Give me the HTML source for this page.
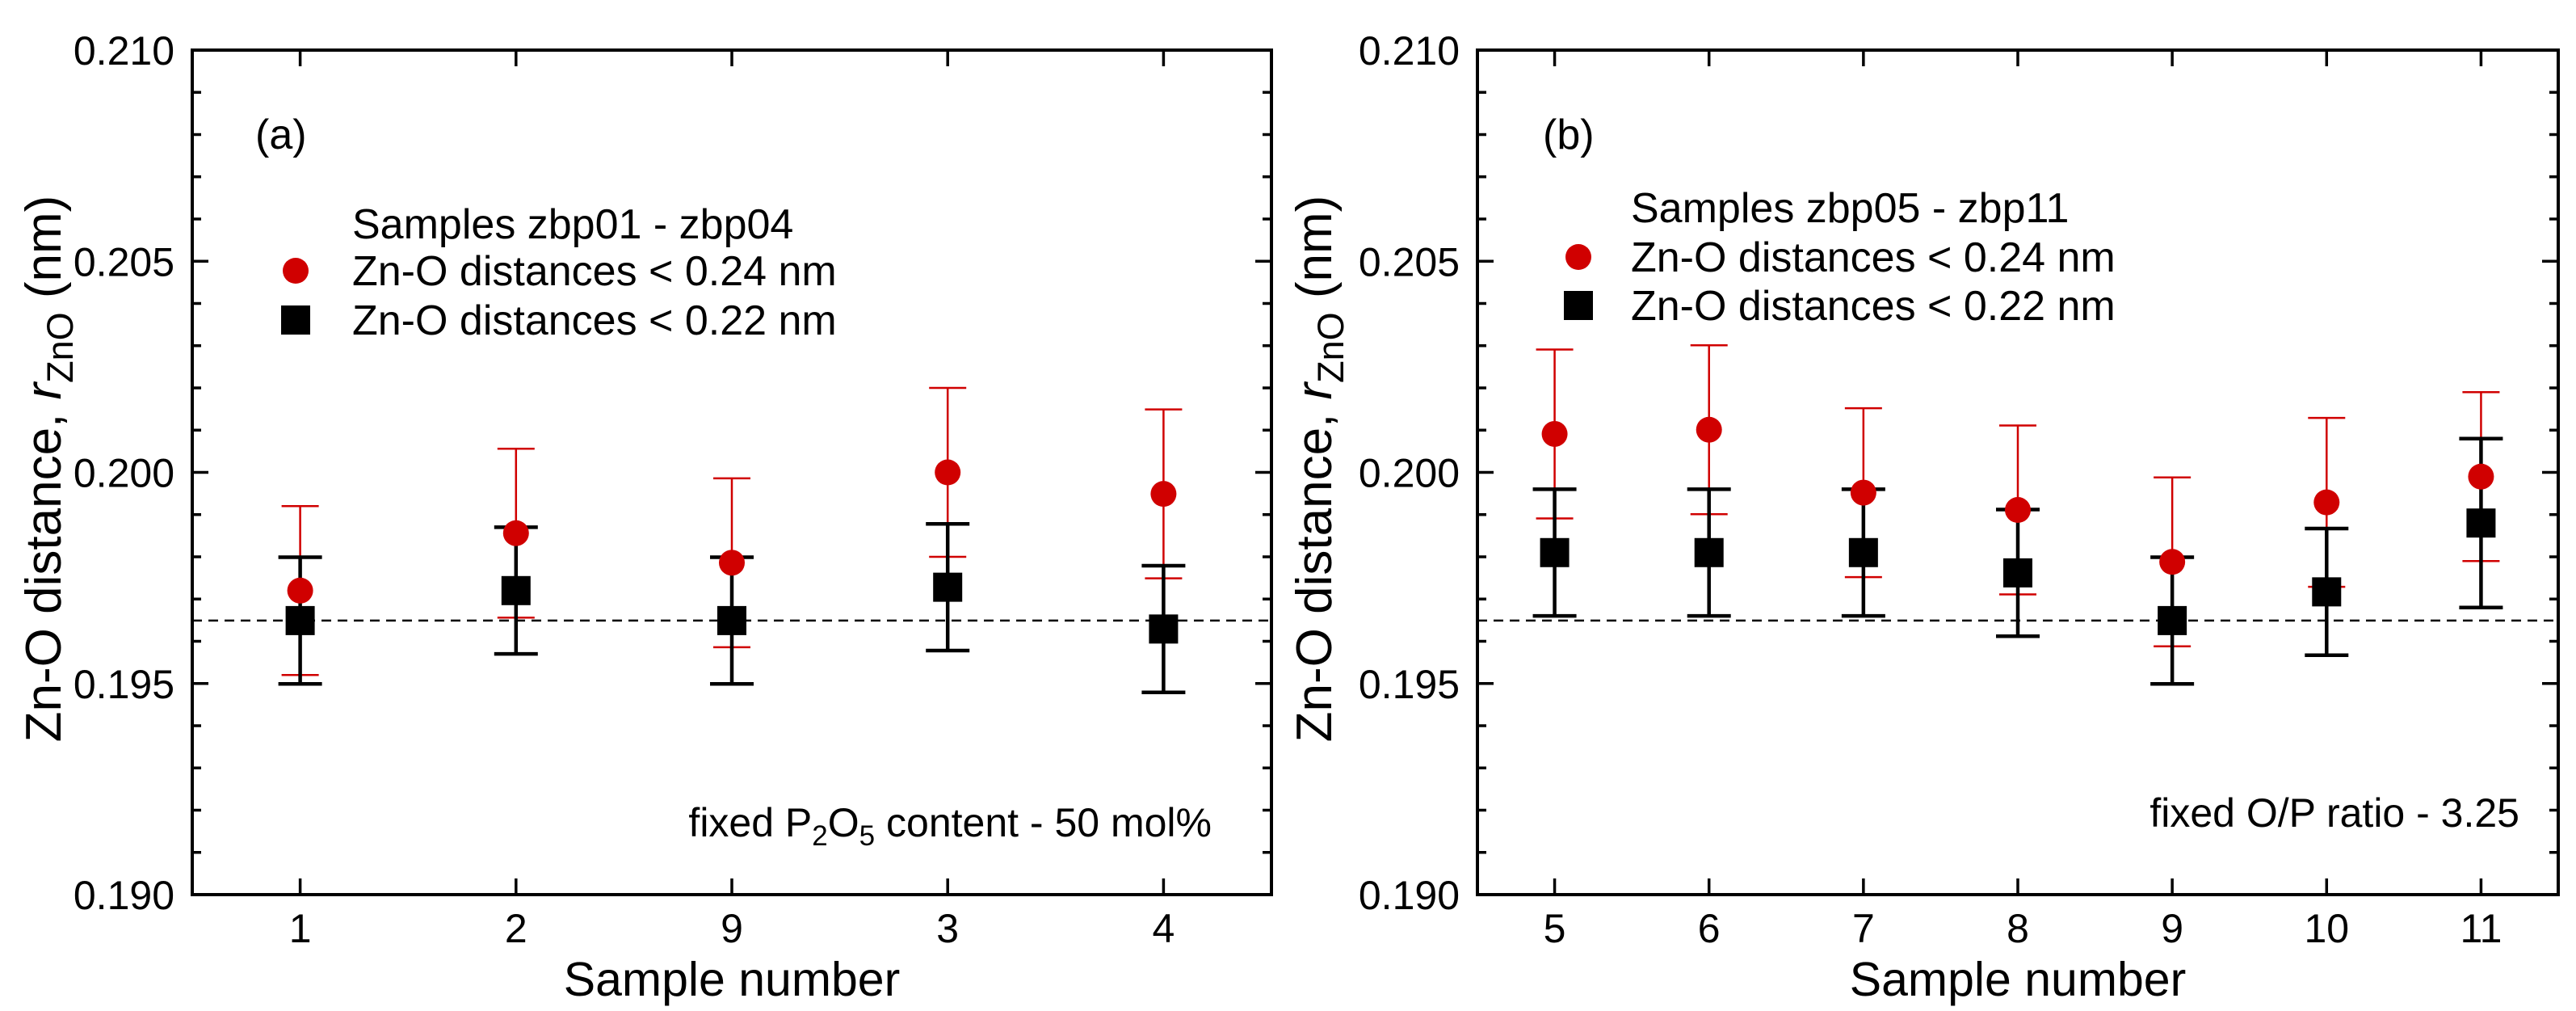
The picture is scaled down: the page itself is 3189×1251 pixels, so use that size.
<!DOCTYPE html>
<html><head><meta charset="utf-8">
<style>
html,body{margin:0;padding:0;background:#fff;}
svg{display:block;font-family:"Liberation Sans",Arial,sans-serif;}
</style></head>
<body>
<svg id="chart" width="3189" height="1251" viewBox="0 0 3189 1251" xmlns="http://www.w3.org/2000/svg"></svg>
<script>
// Panel (a) data
const catsA = ["1","2","9","3","4"];
const redA = [0.1972, 0.19856, 0.19786, 0.2000, 0.19949];
const redErrA = [0.0020, 0.0020, 0.0020, 0.0020, 0.0020];
const blkA = [0.19649, 0.1972, 0.19649, 0.19728, 0.19629];
const blkErrA = [0.0015, 0.0015, 0.0015, 0.0015, 0.0015];
// Panel (b) data
const catsB = ["5","6","7","8","9","10","11"];
const redB = [0.20091, 0.20101, 0.19952, 0.19911, 0.19788, 0.19929, 0.1999];
const redErrB = [0.0020, 0.0020, 0.0020, 0.0020, 0.0020, 0.0020, 0.0020];
const blkB = [0.1981, 0.1981, 0.1981, 0.19762, 0.19649, 0.19717, 0.1988];
const blkErrB = [0.0015, 0.0015, 0.0015, 0.0015, 0.0015, 0.0015, 0.0020];
const refLine = 0.19649;
const yTicks = ["0.190","0.195","0.200","0.205","0.210"];

const NS = "http://www.w3.org/2000/svg";
const svg = document.getElementById("chart");
function mk(tag, attrs, parent, text){
  const e = document.createElementNS(NS, tag);
  for (const k in attrs) e.setAttribute(k, attrs[k]);
  if (text !== undefined) e.textContent = text;
  (parent || svg).appendChild(e);
  return e;
}

function panel(cfg){
  const g = mk("g", {});
  
  
  const L = cfg.left, R = cfg.right, T = 62, B = 1107;
  const yMin = 0.190, yMax = 0.210;
  const y = v => T + (yMax - v) / (yMax - yMin) * (B - T);
  const n = cfg.cats.length;
  const x = i => L + (i + 0.5) / n * (R - L);

  const dl = mk("line", {x1:L, x2:R, y1:y(refLine), y2:y(refLine), stroke:"#000", "stroke-width":2.5, "stroke-dasharray":"12,8"}, g);
  
  

  for (let k = 0; k <= 20; k++){
    const v = yMin + k * 0.001;
    const len = (k % 5 === 0) ? 20 : 11;
    mk("line", {x1:L, x2:L+len, y1:y(v), y2:y(v), stroke:"#000", "stroke-width":3.5}, g);
    mk("line", {x1:R, x2:R-len, y1:y(v), y2:y(v), stroke:"#000", "stroke-width":3.5}, g);
  }
  yTicks.forEach(t => {
    const tl = mk("text", {x:L-22, y:y(parseFloat(t))+18, "font-size":50, "text-anchor":"end", fill:"#000"}, g, t);
    
    
  });
  cfg.cats.forEach((c, i) => {
    mk("line", {x1:x(i), x2:x(i), y1:B, y2:B-20, stroke:"#000", "stroke-width":3.5}, g);
    mk("line", {x1:x(i), x2:x(i), y1:T, y2:T+20, stroke:"#000", "stroke-width":3.5}, g);
    const tl = mk("text", {x:x(i), y:1166, "font-size":50, "text-anchor":"middle", fill:"#000"}, g, c);
    
    
  });

  cfg.red.forEach((v, i) => {
    const e = cfg.redErr[i];
    const eb = mk("g", {stroke:"#d00000", "stroke-width":2.5}, g);
    
    
    mk("line", {x1:x(i), x2:x(i), y1:y(v+e), y2:y(v-e)}, eb);
    mk("line", {x1:x(i)-23, x2:x(i)+23, y1:y(v+e), y2:y(v+e)}, eb);
    mk("line", {x1:x(i)-23, x2:x(i)+23, y1:y(v-e), y2:y(v-e)}, eb);
  });
  cfg.blk.forEach((v, i) => {
    const e = cfg.blkErr[i];
    const eb = mk("g", {stroke:"#000", "stroke-width":4.5}, g);
    
    
    mk("line", {x1:x(i), x2:x(i), y1:y(v+e), y2:y(v-e)}, eb);
    mk("line", {x1:x(i)-27, x2:x(i)+27, y1:y(v+e), y2:y(v+e)}, eb);
    mk("line", {x1:x(i)-27, x2:x(i)+27, y1:y(v-e), y2:y(v-e)}, eb);
  });
  cfg.red.forEach((v, i) => {
    const p = mk("circle", {cx:x(i), cy:y(v), r:16, fill:"#d00000"}, g);
    
    
  });
  cfg.blk.forEach((v, i) => {
    const p = mk("rect", {x:x(i)-18, y:y(v)-18, width:36, height:36, fill:"#000"}, g);
    
    
  });

  const fr = mk("rect", {x:L, y:T, width:R-L, height:B-T, fill:"none", stroke:"#000", "stroke-width":4}, g);
  
  

  const xt = mk("text", {x:(L+R)/2, y:1232, "font-size":59, "text-anchor":"middle", fill:"#000"}, g, "Sample number");
  
  
  const yt = mk("text", {x:0, y:0, "font-size":62, "text-anchor":"middle", fill:"#000", transform:`translate(${cfg.ytx},580) rotate(-90)`}, g);
  
  
  mk("tspan", {}, yt, "Zn-O distance, ");
  mk("tspan", {"font-style":"italic"}, yt, "r");
  mk("tspan", {"font-size":45, dy:15}, yt, "ZnO");
  mk("tspan", {dy:-15}, yt, " (nm)");

  const pl = mk("text", {x:cfg.lblX, y:184, "font-size":52, fill:"#000"}, g, cfg.label);
  
  

  const lg = mk("g", {}, g);
  
  
  mk("text", {x:cfg.legX, y:cfg.legY[0]+18, "font-size":52, fill:"#000"}, lg, cfg.legTitle);
  mk("circle", {cx:cfg.mkX, cy:cfg.legY[1], r:16, fill:"#d00000"}, lg);
  mk("text", {x:cfg.legX, y:cfg.legY[1]+18, "font-size":52, fill:"#000"}, lg, "Zn-O distances < 0.24 nm");
  mk("rect", {x:cfg.mkX-18, y:cfg.legY[2]-18, width:36, height:36, fill:"#000"}, lg);
  mk("text", {x:cfg.legX, y:cfg.legY[2]+18, "font-size":52, fill:"#000"}, lg, "Zn-O distances < 0.22 nm");

  const nt = mk("text", {x:cfg.noteX, y:cfg.noteY+18, "font-size":50, "text-anchor":"end", fill:"#000"}, g);
  
  
  cfg.note(nt);
}

panel({id:"a", left:238, right:1574, cats:catsA, red:redA, redErr:redErrA, blk:blkA, blkErr:blkErrA,
  ytx:75, label:"(a)", lblX:316, legX:436, mkX:366, legY:[277,335,396], legTitle:"Samples zbp01 - zbp04",
  noteX:1500, noteY:1017,
  note: t => { mk("tspan",{},t,"fixed P"); mk("tspan",{"font-size":35,dy:11},t,"2"); mk("tspan",{dy:-11},t,"O"); mk("tspan",{"font-size":35,dy:11},t,"5"); mk("tspan",{dy:-11},t," content - 50 mol%"); }});
panel({id:"b", left:1829, right:3167, cats:catsB, red:redB, redErr:redErrB, blk:blkB, blkErr:blkErrB,
  ytx:1648, label:"(b)", lblX:1910, legX:2019, mkX:1954, legY:[257,318,378], legTitle:"Samples zbp05 - zbp11",
  noteX:3119, noteY:1005,
  note: t => { t.textContent = "fixed O/P ratio - 3.25"; }});
</script>
</body></html>
